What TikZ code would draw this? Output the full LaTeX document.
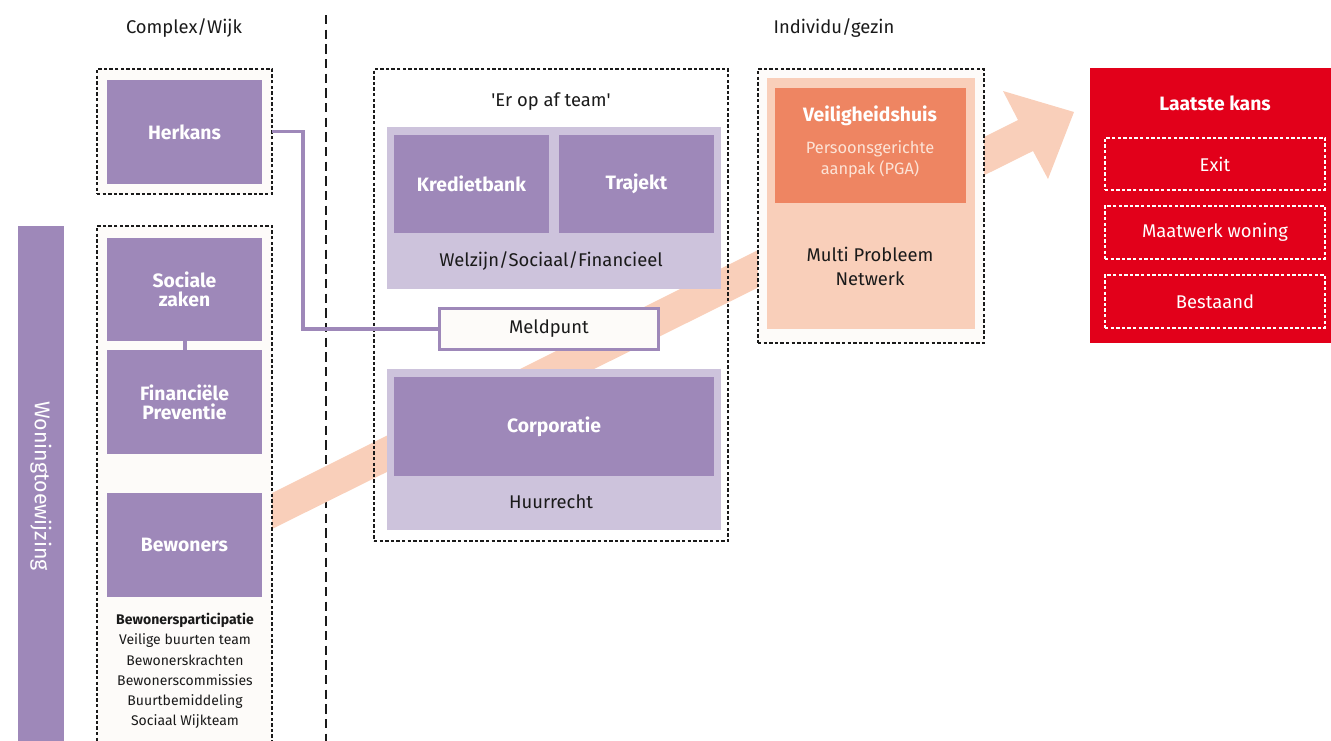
\documentclass[tikz,border=0pt]{standalone}
\usepackage{fontspec}
\setmainfont{Fira Sans}
\definecolor{lilac}{HTML}{9E88B9}
\definecolor{lavender}{HTML}{CDC3DC}
\definecolor{peach}{HTML}{F9CFBA}
\definecolor{coral}{HTML}{EE8562}
\definecolor{signal}{HTML}{E2001A}
\definecolor{offwhite}{HTML}{FDFBF9}
\definecolor{ink}{HTML}{1A1A1A}
\definecolor{palepeach}{HTML}{FCE3D6}
\begin{document}
\begin{tikzpicture}[x=0.75pt,y=-0.75pt,
  rect/.style n args={4}{at={({(#1+#3)/2},{(#2+#4)/2})},
    minimum width={(#3-#1)*0.75pt}, minimum height={(#4-#2)*0.75pt}},
  base/.style={inner sep=0pt, outer sep=0pt, anchor=center, align=center},
  dashframe/.style={base, draw=ink, line width=0.8pt, dash pattern=on 2.6pt off 1.6pt},
  pbox/.style={base, fill=lilac, text=white, font=\fontsize{14.5}{14}\selectfont\bfseries},
  lbox/.style={base, fill=lavender},
  lbl/.style={text=ink, align=center, inner sep=0pt, font=\fontsize{13.8}{18}\selectfont},
  whitedash/.style={base, draw=white, line width=1pt, dash pattern=on 2.6pt off 1.6pt,
    text=white, font=\fontsize{13.8}{15}\selectfont},
  link/.style={draw=lilac, line width=2.3pt}
]
\useasboundingbox (0,0) rectangle (1331,740);

% column headings and divider
\node[lbl] (hcomplex) at (184,28) {Complex/Wijk};
\node[lbl] (hindividu) at (834,28) {Individu/gezin};
\draw[ink, line width=2.2pt, dash pattern=on 7pt off 4pt] (326,15) -- (326,742);

% escalation arrow (behind everything)
\fill[peach] (272,493) -- (1018,120) -- (1003,91) -- (1074,112) -- (1048,179)
  -- (1033,151) -- (272,529) -- cycle;

% neighbourhood column
\node[pbox, rect={18}{226}{64}{742}] (woning) {};
\node[rotate=-90, text=white, inner sep=0pt, font=\fontsize{16}{18}\selectfont] at (41,486) {Woningtoewijzing};

\node[dashframe, fill=offwhite, rect={97}{69}{272}{194}] (herkansframe) {};
\node[pbox, rect={107}{80}{262}{184}] (herkans) {Herkans};

\node[dashframe, fill=offwhite, rect={97}{226}{272}{742}] (wijkframe) {};
\node[pbox, rect={107}{238}{262}{341}] (sociale) {Sociale\\zaken};
\node[pbox, rect={107}{350}{262}{454}] (fin) {Financiële\\Preventie};
\draw[lilac, line width=3pt] (sociale.south) -- (fin.north);
\node[pbox, rect={107}{493}{262}{597}] (bewoners) {Bewoners};
\node[lbl, font=\fontsize{10.5}{15.2}\selectfont] (particip) at (185,671)
  {\textbf{Bewonersparticipatie}\\Veilige buurten team\\Bewonerskrachten\\Bewonerscommissies\\Buurtbemiddeling\\Sociaal Wijkteam};

% 'Er op af team'
\node[dashframe, rect={374}{69}{728}{541}] (teamframe) {};
\node[lbl] (teamtitle) at (551,102) {\textquotesingle Er op af team\textquotesingle};
\node[lbox, rect={387}{127}{721}{289}] (welzijn) {};
\node[pbox, rect={394}{135}{549}{233}] (krediet) {Kredietbank};
\node[pbox, rect={559}{135}{714}{233}] (trajekt) {Trajekt};
\node[lbl] (welzijnlbl) at (551,261) {Welzijn/Sociaal/Financieel};

\node[base, draw=lilac, line width=2.3pt, fill=offwhite, text=ink,
  font=\fontsize{13.8}{15}\selectfont, rect={439.5}{308.5}{658.5}{349.5}] (meld) {Meldpunt};

\node[lbox, rect={387}{369}{721}{530}] (huur) {};
\node[pbox, rect={394}{377}{714}{476}] (corp) {Corporatie};
\node[lbl] (huurlbl) at (551,502) {Huurrecht};

\draw[link] (herkansframe.east) -- ++(31,0) |- (meld.west);

% multi-problem network
\node[dashframe, fill=offwhite, rect={758}{69}{984}{343}] (mpnframe) {};
\node[base, fill=peach, rect={767}{78}{975}{329}] (mpn) {};
\node[base, fill=coral, rect={775}{88}{966}{203}] (veilig) {};
\node[text=white, inner sep=0pt, font=\fontsize{14.5}{16}\selectfont\bfseries] (veiliglbl) at (870,116) {Veiligheidshuis};
\node[text=palepeach, align=center, inner sep=0pt, font=\fontsize{12.3}{15.8}\selectfont] (pga) at (870,159) {Persoonsgerichte\\aanpak (PGA)};
\node[lbl] (mpnlbl) at (870,266) {Multi Probleem\\Netwerk};

% last chance
\node[base, fill=signal, rect={1090}{68}{1331}{343}] (laatste) {};
\node[text=white, inner sep=0pt, font=\fontsize{14.5}{16}\selectfont\bfseries] (laatstelbl) at (1215,103) {Laatste kans};
\node[whitedash, rect={1105}{138}{1325}{190}] (exit) {Exit};
\node[whitedash, rect={1105}{206}{1325}{259}] (maatwerk) {Maatwerk woning};
\node[whitedash, rect={1105}{275}{1325}{328}] (bestaand) {Bestaand};
\end{tikzpicture}
\end{document}
